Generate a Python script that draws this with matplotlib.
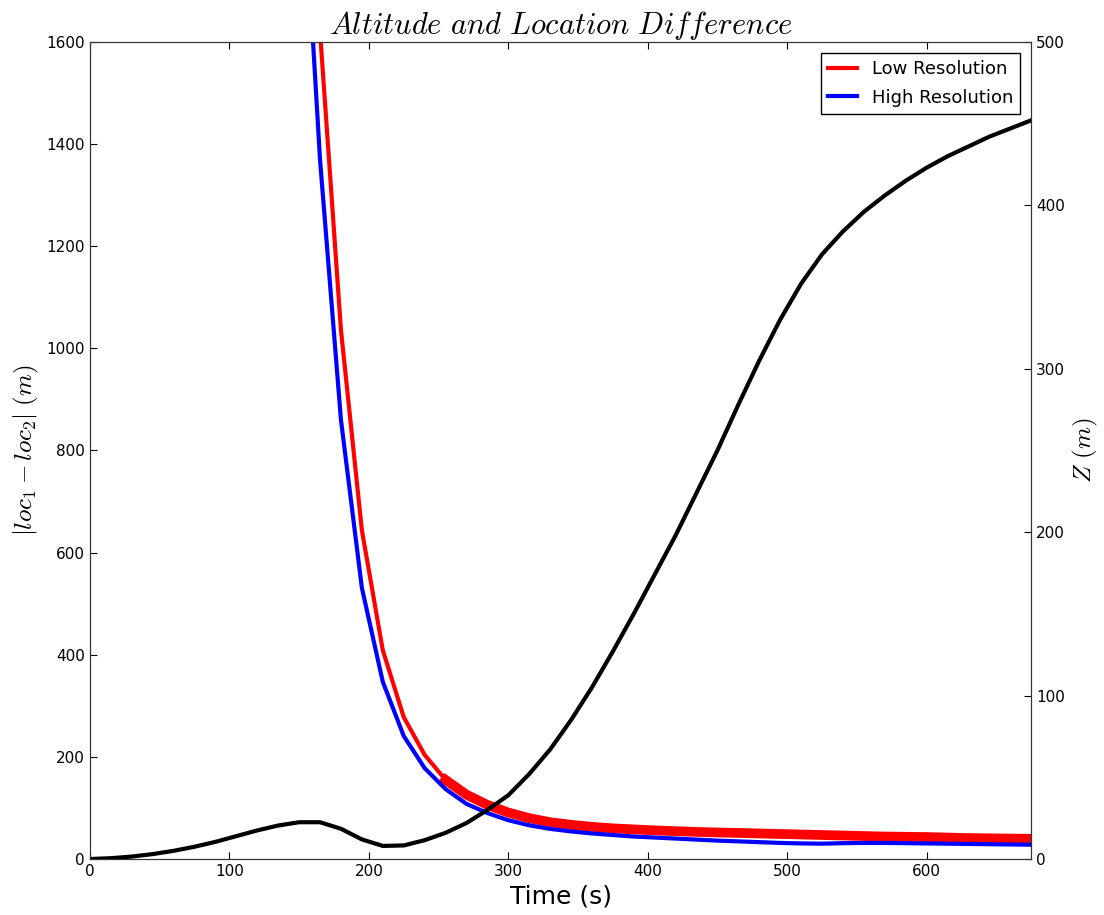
import numpy as np
import matplotlib
matplotlib.use('Agg')
import matplotlib.pyplot as plt

plt.rcParams['mathtext.fontset'] = 'cm'

# time samples every 15 s
t = np.arange(0, 676, 15)

# altitude Z (m), right axis
z = [0, 0.5, 1.5, 3, 5, 7.5, 10.5, 14, 17.5, 20.5, 22.5, 22.5, 18.5, 12, 8, 8.3,
     11.5, 16, 22, 30, 39, 52, 67, 85, 105, 127, 150, 174, 198, 224, 250, 278,
     305, 330, 352, 370, 384, 396, 406, 415, 423, 430, 436, 442, 447, 452]

# location difference (m), left axis, from t=150 on
t_loc = np.arange(150, 676, 15)
low_res = [2800, 1620, 1036, 644, 409, 278, 204, 155, 126, 106, 91, 80, 72, 67,
           63, 60, 58, 56, 54.5, 53, 52, 51, 50, 49, 48, 47, 46, 45, 44, 43.5,
           43, 42, 41, 40.5, 40, 39.5]
high_res = [2060, 1369, 860, 531, 347, 241, 178, 137, 108, 90, 76, 66, 59, 54,
            50, 47, 44, 42, 40, 38, 36, 34.5, 33, 31.5, 30.5, 30, 31, 31.5, 31.5,
            31, 30.5, 30, 29.5, 29, 28.5, 28]

fig = plt.figure(figsize=(11.04, 9.15), dpi=100)
ax1 = fig.add_axes([0.0815, 0.0612, 0.8525, 0.893])
ax2 = ax1.twinx()

ax1.plot(t_loc, low_res, color='red', lw=3, label='Low Resolution')
ax1.plot(t_loc[7:], low_res[7:], color='red', lw=7)
ax1.plot(t_loc, high_res, color='blue', lw=3, label='High Resolution')
ax2.plot(t, z, color='black', lw=3)

ax1.set_xlim(0, 675)
ax1.set_ylim(0, 1600)
ax2.set_ylim(0, 500)
ax1.set_xticks(np.arange(0, 700, 100))
ax1.set_yticks(np.arange(0, 1601, 200))
ax2.set_yticks(np.arange(0, 501, 100))

ax1.tick_params(direction='in', top=True, labelsize=11, length=5)
ax2.tick_params(direction='in', labelsize=11, length=5)
for a in (ax1, ax2):
    for s in a.spines.values():
        s.set_color('#333333')

ax1.set_title(r'$Altitude\ and\ Location\ Difference$', fontsize=22)
ax1.set_xlabel('Time (s)', fontsize=18)
ax1.set_ylabel(r'$|loc_1 - loc_2|\ (m)$', fontsize=18)
ax2.set_ylabel(r'$Z\ (m)$', fontsize=18)

leg = ax1.legend(loc='upper right', fontsize=13, fancybox=False, framealpha=1,
                 handlelength=1.6, labelspacing=0.6, borderaxespad=0.6)
leg.get_frame().set_edgecolor('black')

plt.savefig('out.png', dpi=100)
